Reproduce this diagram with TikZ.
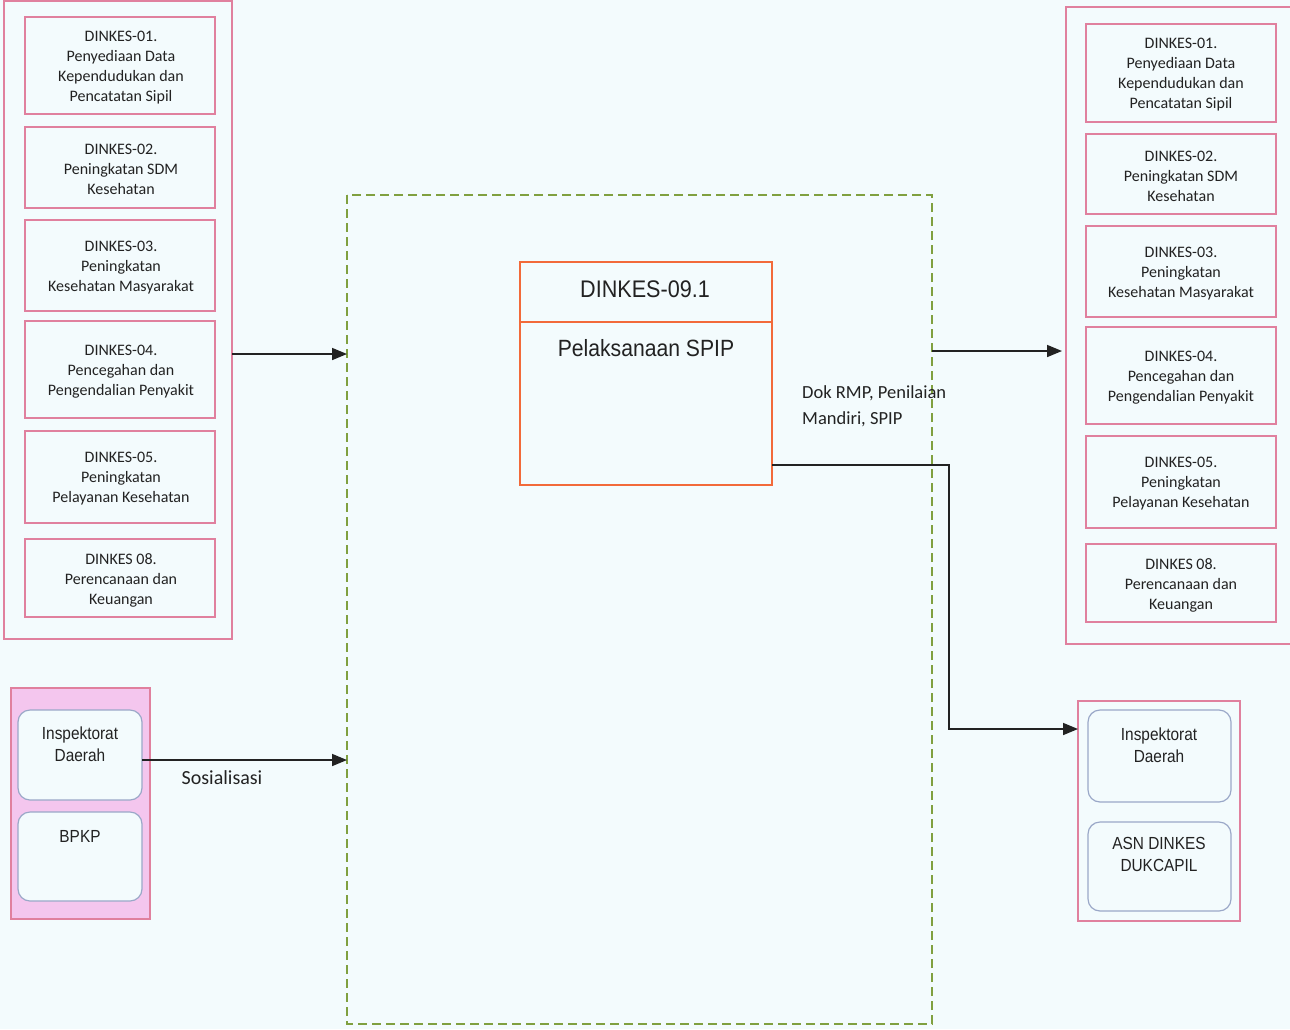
\documentclass[tikz,border=0pt]{standalone}
\usepackage{fontspec}
\setmainfont{Carlito}
\newfontfamily\arialf{Liberation Sans}
\usetikzlibrary{arrows.meta}
\definecolor{bgc}{HTML}{F3FBFD}
\definecolor{pinkb}{HTML}{E0809E}
\definecolor{pinkf}{HTML}{F4C6EE}
\definecolor{blueb}{HTML}{9AA8C8}
\definecolor{orangeb}{HTML}{F26A3A}
\definecolor{greend}{HTML}{80A040}
\definecolor{txt}{HTML}{222222}
\tikzset{
  outerbox/.style={draw=pinkb, line width=1.2pt},
  itembox/.style={text=txt, align=center, font=\fontsize{16}{20}\selectfont, inner sep=0pt},
  roundbox/.style={draw=blueb, line width=1.2pt, rounded corners=12pt, fill=bgc},
  rtext/.style={text=txt, align=center, font=\arialf\fontsize{17.5}{22}\selectfont, inner sep=0pt, xscale=0.88},
  conn/.style={draw=txt, line width=1.6pt, -{Triangle[length=15pt,width=12pt]}},
  lbl/.style={text=txt, inner sep=0pt, align=left}
}
\begin{document}
\begin{tikzpicture}[x=1pt,y=-1pt]
\useasboundingbox (0,0) rectangle (1290,1029);
\fill[bgc] (0,0) rectangle (1290,1029);
% left column
\draw[outerbox] (4,1) rectangle (232,639);
\coordinate (lout) at (232,354);
\foreach \n/\ya/\yb/\t in {
  l1/17/114/{DINKES-01.\\Penyediaan Data\\Kependudukan dan\\Pencatatan Sipil},
  l2/127/208/{DINKES-02.\\Peningkatan SDM\\Kesehatan},
  l3/220/311/{DINKES-03.\\Peningkatan\\Kesehatan Masyarakat},
  l4/321/418/{DINKES-04.\\Pencegahan dan\\Pengendalian Penyakit},
  l5/431/523/{DINKES-05.\\Peningkatan\\Pelayanan Kesehatan},
  l6/539/617/{DINKES 08.\\Perencanaan dan\\Keuangan}}{
  \draw[outerbox] (25,\ya) rectangle (215,\yb);
  \node[itembox] (\n) at (121,{(\ya+\yb)/2+2}) {\t};
}
% right column
\draw[outerbox] (1066,7) rectangle (1292,644);
\coordinate (rin) at (1062,351);
\foreach \n/\ya/\yb/\t in {
  r1/24/122/{DINKES-01.\\Penyediaan Data\\Kependudukan dan\\Pencatatan Sipil},
  r2/134/214/{DINKES-02.\\Peningkatan SDM\\Kesehatan},
  r3/226/317/{DINKES-03.\\Peningkatan\\Kesehatan Masyarakat},
  r4/327/424/{DINKES-04.\\Pencegahan dan\\Pengendalian Penyakit},
  r5/436/528/{DINKES-05.\\Peningkatan\\Pelayanan Kesehatan},
  r6/544/622/{DINKES 08.\\Perencanaan dan\\Keuangan}}{
  \draw[outerbox] (1086,\ya) rectangle (1276,\yb);
  \node[itembox] (\n) at (1181,{(\ya+\yb)/2+2}) {\t};
}
% dashed process area
\draw[greend, line width=1.3pt, dash pattern=on 9pt off 5pt] (347,195) rectangle (932,1024);
\coordinate (dl) at (347,354);
\coordinate (dls) at (347,760);
\coordinate (dr) at (932,351);
% center box
\draw[orangeb, line width=1.5pt, fill=bgc] (520,262) rectangle (772,485);
\draw[orangeb, line width=1.5pt] (520,322) -- (772,322);
\node[text=txt, font=\arialf\fontsize{24}{28}\selectfont, xscale=0.9] (ctitle) at (645,289) {DINKES-09.1};
\node[text=txt, font=\arialf\fontsize{23.5}{28}\selectfont, xscale=0.9] (csub) at (646,348) {Pelaksanaan SPIP};
\coordinate (cout) at (772,465);
\node[lbl, anchor=west, font=\fontsize{18.5}{26}\selectfont] (dok) at (802,406) {Dok RMP, Penilaian\\Mandiri, SPIP};
% bottom left
\draw[pinkb, line width=1.2pt, fill=pinkf] (11,688) rectangle (150,919);
\draw[roundbox] (18,710) rectangle (142,800);
\draw[roundbox] (18,812) rectangle (142,901);
\node[rtext] (insp1) at (80,744) {Inspektorat\\Daerah};
\node[rtext] (bpkp) at (80,836) {BPKP};
\coordinate (iout) at (142,760);
\node[lbl, font=\fontsize{20}{24}\selectfont] (sos) at (222,778) {Sosialisasi};
% bottom right
\draw[pinkb, line width=1.2pt] (1078,701) rectangle (1240,921);
\draw[roundbox] (1088,710) rectangle (1231,802);
\draw[roundbox] (1088,822) rectangle (1231,911);
\node[rtext] (insp2) at (1159,745) {Inspektorat\\Daerah};
\node[rtext] (asn) at (1159,854) {ASN DINKES\\DUKCAPIL};
\coordinate (rin2) at (1078,729);
% connectors
\draw[conn] (lout) -- (dl);
\draw[conn] (dr) -- (rin);
\draw[conn] (iout) -- (dls);
\draw[conn] (cout) -- (949,465) -- (949,729) -- (rin2);
\end{tikzpicture}
\end{document}
